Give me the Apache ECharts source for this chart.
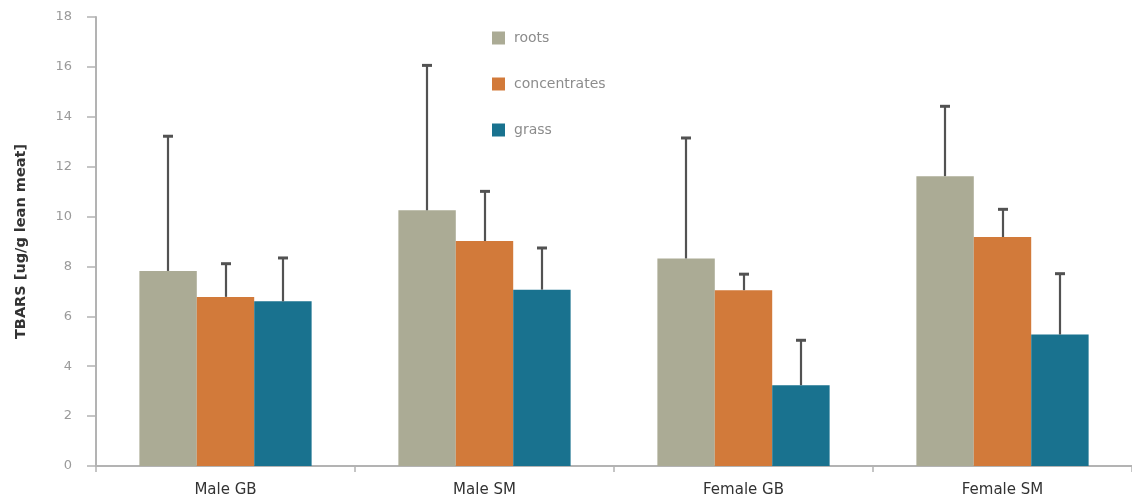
<!DOCTYPE html>
<html>
<head>
<meta charset="utf-8">
<style>
  html, body { margin: 0; padding: 0; background: #ffffff; }
  #chart { width: 1132px; height: 502px; }
</style>
<script src="https://cdn.jsdelivr.net/npm/echarts@6/dist/echarts.min.js"></script>
</head>
<body>
<div id="chart"></div>
<script>
// Groups and treatments
const categories = ['Male GB', 'Male SM', 'Female GB', 'Female SM'];
const seriesNames = ['roots', 'concentrates', 'grass'];

// Mean TBARS values
const roots = [7.82, 10.25, 8.32, 11.62];
const concentrates = [6.78, 9.02, 7.05, 9.18];
const grass = [6.60, 7.07, 3.24, 5.27];

// Standard deviations (upper whiskers)
const rootsSd = [5.40, 5.81, 4.83, 2.80];
const concentratesSd = [1.33, 1.99, 0.64, 1.11];
const grassSd = [1.74, 1.67, 1.80, 2.44];

const yTicks = [0, 2, 4, 6, 8, 10, 12, 14, 16, 18];

const colors = ['#abab95', '#d27a3a', '#19728f'];
const means = [roots, concentrates, grass];
const sds = [rootsSd, concentratesSd, grassSd];

const gapRatio = 0.335;
const fontFamily = '"DejaVu Sans", sans-serif';

const chart = echarts.init(document.getElementById('chart'));

const barSeries = seriesNames.map((name, i) => ({
  name: name,
  type: 'bar',
  data: means[i],
  barGap: '0%',
  barCategoryGap: (gapRatio * 100) + '%',
  itemStyle: { color: colors[i] },
  emphasis: { disabled: true },
  z: 2
}));

// Upper error whiskers, centred on each bar of the group
const errorSeries = seriesNames.map((name, i) => ({
  name: name + ' sd',
  type: 'custom',
  data: means[i].map((m, k) => [k, m, m + sds[i][k]]),
  encode: { x: 0, y: [1, 2] },
  z: 5,
  silent: true,
  renderItem: function (params, api) {
    const k = api.value(0);
    const base = api.coord([k, api.value(1)]);
    const top = api.coord([k, api.value(2)]);
    const catW = api.size([1, 0])[0];
    const barW = catW * (1 - gapRatio) / 3;
    const x = Math.round(base[0] + (i - 1) * barW);
    const cap = 5;
    return {
      type: 'group',
      children: [
        { type: 'line', shape: { x1: x, y1: base[1], x2: x, y2: top[1] }, style: { stroke: '#525252', lineWidth: 2.2 } },
        { type: 'line', shape: { x1: x - cap, y1: top[1], x2: x + cap, y2: top[1] }, style: { stroke: '#525252', lineWidth: 3 } }
      ]
    };
  }
}));

chart.setOption({
  animation: false,
  backgroundColor: '#ffffff',
  textStyle: { fontFamily: fontFamily },
  grid: { left: 96, right: -5, top: 17, bottom: 36, containLabel: false },
  legend: {
    data: seriesNames,
    orient: 'vertical',
    left: 487,
    top: 26,
    itemWidth: 13,
    itemHeight: 13,
    itemGap: 32,
    icon: 'rect',
    textStyle: { color: '#8c8c8c', fontSize: 14, lineHeight: 14, padding: [0, 0, 0, 4], fontFamily: fontFamily },
    selectedMode: false
  },
  xAxis: {
    type: 'category',
    data: categories,
    axisLine: { lineStyle: { color: '#b3b3b3', width: 2 } },
    axisTick: { show: true, length: 6, lineStyle: { color: '#b3b3b3', width: 1.5 } },
    axisLabel: { color: '#333333', fontSize: 15, margin: 17, fontFamily: fontFamily }
  },
  yAxis: {
    type: 'value',
    min: yTicks[0],
    max: yTicks[yTicks.length - 1],
    interval: 2,
    name: 'TBARS [ug/g lean meat]',
    nameLocation: 'middle',
    nameGap: 67,
    nameTextStyle: { color: '#333333', fontSize: 14.5, fontWeight: 'bold', fontFamily: fontFamily },
    axisLine: { show: true, lineStyle: { color: '#b3b3b3', width: 2 } },
    axisTick: { show: true, length: 9, lineStyle: { color: '#b3b3b3', width: 1.5 } },
    axisLabel: { color: '#9a9a9a', fontSize: 13, margin: 24, fontFamily: fontFamily },
    splitLine: { show: false }
  },
  series: barSeries.concat(errorSeries)
});
</script>
</body>
</html>
